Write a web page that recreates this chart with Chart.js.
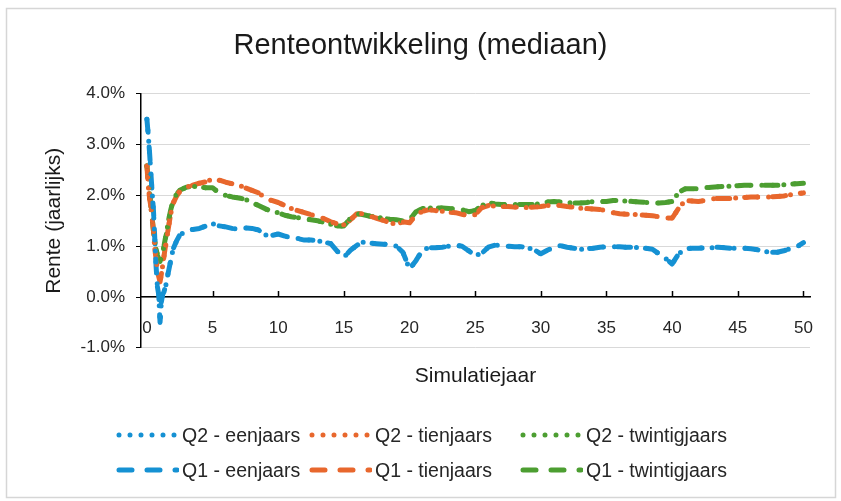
<!DOCTYPE html>
<html><head><meta charset="utf-8">
<script src="https://cdn.jsdelivr.net/npm/chart.js@4/dist/chart.umd.min.js"></script>
<style>
html,body{margin:0;padding:0;background:#fff;}
#wrap{position:relative;width:841px;height:501px;}
#legend{position:absolute;left:0;top:0;width:841px;height:501px;pointer-events:none;font-family:"Liberation Sans",Arial,sans-serif;font-size:19.5px;color:#262626;}
.item{position:absolute;display:flex;align-items:center;height:24px;white-space:nowrap;}
.item canvas{margin-right:3px;}
</style></head><body>
<div id="wrap"><canvas id="c" width="841" height="501"></canvas><div id="legend"></div></div>
<script>
// ---- data ----
const years = [0,0.1,0.2,0.3,0.4,0.5,0.6,0.7,0.8,0.9,1.0,1.1,1.2,1.3,1.4,1.5,1.6,1.8,2.0,2.25,2.5,
  3,3.5,4,4.5,5,5.5,6,6.5,7,7.5,8,8.5,9,9.5,10,10.5,11,11.5,12,12.5,13,13.5,14,14.5,15,15.5,16,16.5,17,17.5,18,18.5,19,19.5,20,
  20.5,21,21.5,22,22.5,23,23.5,24,24.5,25,25.5,26,26.5,27,27.5,28,28.5,29,29.5,30,30.5,31,31.5,32,32.5,33,33.5,34,34.5,35,
  35.5,36,36.5,37,37.5,38,38.5,39,39.5,40,40.5,41,41.5,42,42.5,43,43.5,44,44.5,45,45.5,46,46.5,47,47.5,48,48.5,49,49.5,50];

const q2Eenjaars = [3.50,3.20,2.85,2.45,2.05,1.70,1.15,0.60,0.20,0.05,-0.50,-0.10,0.05,0.10,0.20,0.28,0.45,0.70,0.95,1.10,1.22,
  1.30,1.33,1.35,1.40,1.44,1.40,1.38,1.35,1.34,1.36,1.35,1.32,1.22,1.21,1.24,1.20,1.16,1.15,1.12,1.12,1.11,1.08,1.05,0.90,0.78,0.92,1.02,1.08,1.06,1.05,1.04,1.03,1.00,0.88,0.55,
  0.72,0.93,0.97,0.97,0.98,1.00,1.02,1.00,0.91,0.82,0.86,0.98,1.02,1.01,1.00,0.99,0.99,0.97,0.93,0.85,0.92,0.98,1.01,0.98,0.96,0.94,0.95,0.96,0.98,0.99,
  0.99,0.99,0.98,0.98,0.97,0.96,0.94,0.85,0.76,0.65,0.85,0.95,0.96,0.96,0.97,0.97,0.98,0.97,0.96,0.96,0.96,0.95,0.93,0.90,0.88,0.88,0.91,0.95,0.99,1.07];

const q2Tienjaars = [2.58,2.20,1.95,1.78,1.55,1.30,0.95,0.75,0.55,0.40,0.30,0.45,0.62,0.80,0.98,1.10,1.30,1.62,1.85,1.98,2.08,
  2.16,2.20,2.24,2.27,2.32,2.30,2.26,2.23,2.20,2.15,2.10,2.05,1.95,1.90,1.86,1.80,1.74,1.70,1.66,1.62,1.58,1.54,1.48,1.44,1.42,1.52,1.64,1.64,1.59,1.55,1.51,1.46,1.43,1.48,1.46,
  1.62,1.69,1.72,1.70,1.69,1.67,1.66,1.63,1.60,1.62,1.76,1.80,1.79,1.78,1.78,1.77,1.77,1.76,1.77,1.78,1.80,1.82,1.80,1.78,1.77,1.75,1.74,1.73,1.72,1.70,
  1.66,1.64,1.63,1.63,1.62,1.61,1.60,1.58,1.56,1.55,1.75,1.90,1.89,1.88,1.90,1.93,1.94,1.94,1.94,1.95,1.96,1.97,1.97,1.97,1.97,1.98,1.99,2.01,2.03,2.05];

const q2Twintigjaars = [2.58,2.35,2.05,1.80,1.55,1.30,1.10,0.95,0.82,0.75,0.70,0.78,0.88,1.00,1.15,1.25,1.45,1.70,1.90,2.02,2.10,
  2.16,2.18,2.17,2.15,2.15,2.05,2.00,1.97,1.95,1.92,1.86,1.80,1.74,1.68,1.66,1.61,1.58,1.56,1.54,1.52,1.50,1.47,1.43,1.40,1.40,1.55,1.64,1.62,1.59,1.57,1.55,1.53,1.52,1.50,1.52,
  1.68,1.74,1.75,1.75,1.75,1.74,1.73,1.72,1.68,1.70,1.80,1.86,1.83,1.82,1.82,1.82,1.82,1.82,1.82,1.84,1.87,1.88,1.87,1.86,1.85,1.85,1.86,1.88,1.88,1.88,
  1.90,1.90,1.89,1.88,1.87,1.86,1.85,1.85,1.86,1.88,2.06,2.13,2.13,2.13,2.15,2.16,2.17,2.18,2.18,2.19,2.20,2.20,2.20,2.20,2.20,2.20,2.21,2.22,2.23,2.24];

// Q1 medians coincide with the Q2 medians in the picture
const q1Eenjaars = q2Eenjaars.slice();
const q1Tienjaars = q2Tienjaars.slice();
const q1Twintigjaars = q2Twintigjaars.slice();

const seriesLabels = ['Q2 - eenjaars','Q2 - tienjaars','Q2 - twintigjaars','Q1 - eenjaars','Q1 - tienjaars','Q1 - twintigjaars'];
const xTicks = [0,5,10,15,20,25,30,35,40,45,50];
const yTicks = [-1,0,1,2,3,4];

// ---- styles ----
const BLUE = '#1591D3', ORANGE = '#E8672D', GREEN = '#4C9E31';
const FONT = '"Liberation Sans", Arial, sans-serif';
const DOT = {borderDash:[0, 11], borderWidth:5};
const DASH = {borderDash:[13, 15], borderWidth:5};

const seriesValues = [q2Eenjaars,q2Tienjaars,q2Twintigjaars,q1Eenjaars,q1Tienjaars,q1Twintigjaars];
const seriesColors = [BLUE,ORANGE,GREEN,BLUE,ORANGE,GREEN];
const seriesStyles = [DOT,DOT,DOT,DASH,DASH,DASH];

const datasets = seriesValues.map((vals,i)=>({
  label: seriesLabels[i],
  data: vals.map((v,k)=>({x:years[k], y:v})),
  borderColor: seriesColors[i],
  backgroundColor: seriesColors[i],
  borderWidth: seriesStyles[i].borderWidth,
  borderDash: seriesStyles[i].borderDash,
  borderCapStyle: 'round',
  borderJoinStyle: 'round',
  pointRadius: 0,
  tension: 0,
  fill: false
}));

const deco = {
  id: 'deco',
  beforeDraw(chart){
    const c = chart.ctx;
    c.save();
    c.fillStyle = '#fff';
    c.fillRect(0,0,chart.width,chart.height);
    c.strokeStyle = '#d6d6d6';
    c.lineWidth = 1.5;
    c.strokeRect(6.5, 8.5, 829, 489);
    c.restore();
  },
  afterDraw(chart){
    const c = chart.ctx, xs = chart.scales.x, ys = chart.scales.y;
    const y0 = Math.round(ys.getPixelForValue(0));
    c.save();
    c.strokeStyle = '#000';
    c.lineWidth = 1.5;
    xTicks.slice(1).forEach(v=>{
      const px = Math.round(xs.getPixelForValue(v)) + 0.5;
      c.beginPath(); c.moveTo(px, y0 - 6); c.lineTo(px, y0); c.stroke();
    });
    c.restore();
  }
};

const chart = new Chart(document.getElementById('c'), {
  type: 'line',
  data: { datasets },
  plugins: [deco],
  options: {
    responsive: false,
    animation: false,
    events: [],
    layout: { padding: { left: 0, right: 0, top: 8, bottom: 112 } },
    plugins: {
      legend: { display: false },
      tooltip: { enabled: false },
      title: {
        display: true,
        text: 'Renteontwikkeling (mediaan)',
        color: '#1a1a1a',
        font: { family: FONT, size: 29, weight: 'normal' },
        padding: { top: 21, bottom: 30 }
      }
    },
    scales: {
      x: {
        type: 'linear',
        min: -0.45, max: 50.5,
        position: { y: 0 },
        afterBuildTicks: s => { s.ticks = xTicks.map(v => ({value: v})); },
        ticks: { color: '#262626', font: { family: FONT, size: 17 }, padding: 13, maxRotation: 0, autoSkip: false },
        grid: { display: false },
        border: { display: true, color: '#000', width: 1.5 }
      },
      x2: {
        type: 'linear',
        min: -0.45, max: 50.5,
        position: 'bottom',
        ticks: { display: false },
        grid: { display: false },
        border: { display: false },
        title: { display: true, text: 'Simulatiejaar', color: '#1a1a1a',
                 font: { family: FONT, size: 21 }, padding: { top: 8, bottom: 0 } }
      },
      y: {
        type: 'linear',
        min: -1, max: 4,
        afterFit: s => { s.width = 141; },
        afterBuildTicks: s => { s.ticks = yTicks.map(v => ({value: v})); },
        ticks: { color: '#262626', font: { family: FONT, size: 17 }, padding: 11,
                 callback: v => v.toFixed(1) + '%' },
        grid: { color: '#d9d9d9', lineWidth: 1, tickLength: 5, tickColor: '#000' },
        border: { display: true, color: '#000', width: 1.5 },
        title: { display: true, text: 'Rente (jaarlijks)', color: '#1a1a1a',
                 font: { family: FONT, size: 21 }, padding: { top: 42, bottom: 0 } }
      },
      yRight: {
        type: 'linear',
        min: -1, max: 4,
        position: 'right',
        afterFit: s => { s.width = 31; },
        ticks: { display: false },
        grid: { display: false, drawOnChartArea: false },
        border: { display: false }
      }
    }
  }
});

// ---- HTML legend (3 columns x 2 rows) ----
const legend = document.getElementById('legend');
const colLeft = [115, 308, 519];
const rowTop = [423, 458];
chart.data.datasets.forEach((ds, i) => {
  const item = document.createElement('div');
  item.className = 'item';
  item.style.left = colLeft[i % 3] + 'px';
  item.style.top = rowTop[Math.floor(i / 3)] + 'px';
  const sw = document.createElement('canvas');
  sw.width = 64; sw.height = 12;
  const g = sw.getContext('2d');
  g.strokeStyle = ds.borderColor;
  g.lineWidth = ds.borderWidth;
  g.lineCap = 'round';
  g.setLineDash(ds.borderDash);
  g.beginPath(); g.moveTo(4, 6); g.lineTo(62, 6); g.stroke();
  item.appendChild(sw);
  const t = document.createElement('span');
  t.textContent = ds.label;
  item.appendChild(t);
  legend.appendChild(item);
});
</script>
</body></html>
